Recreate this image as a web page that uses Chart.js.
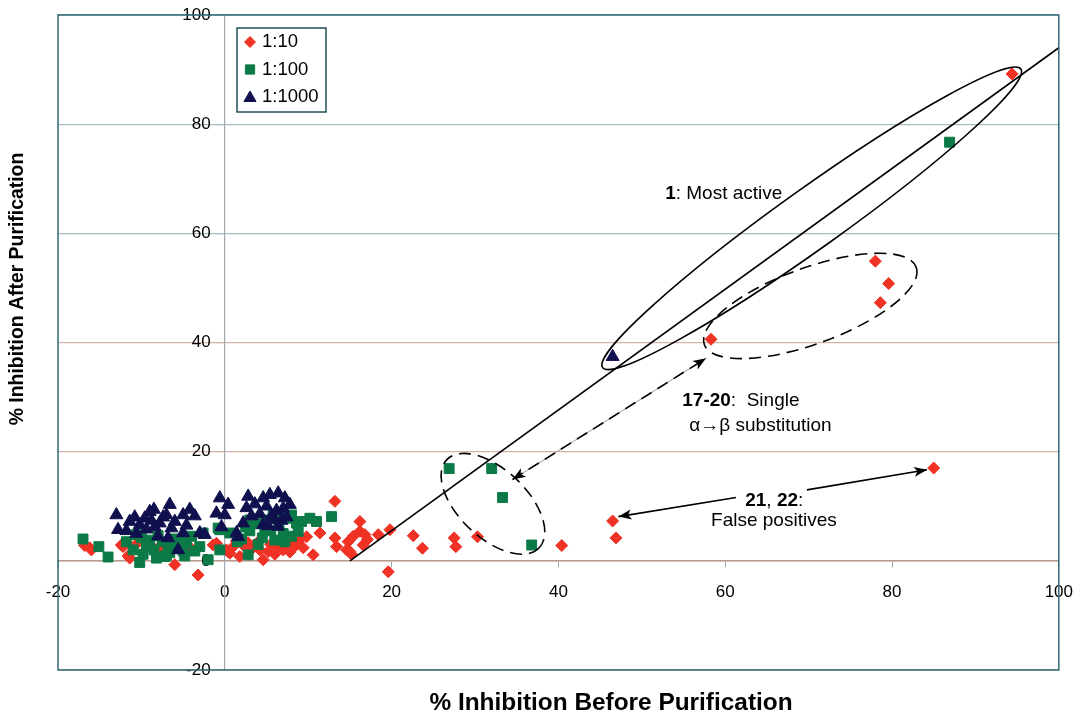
<!DOCTYPE html>
<html>
<head>
<meta charset="utf-8">
<script src="https://cdn.jsdelivr.net/npm/chart.js@4.4.0/dist/chart.umd.min.js"></script>
<style>
  html, body { margin: 0; padding: 0; background: #fff; overflow: hidden; }
</style>
</head>
<body>
<canvas id="myChart" width="1088" height="713"></canvas>
<script>
// % inhibition before (x) and after (y) purification
const dil10 = [
  [94.4, 89.2], [78.0, 54.9], [79.6, 50.8], [78.6, 47.3], [58.3, 40.6], [85.0, 17.0],
  [46.5, 7.3], [46.9, 4.2], [40.4, 2.8], [30.3, 4.4], [27.5, 4.2], [27.7, 2.6],
  [23.7, 2.3], [22.6, 4.6], [19.8, 5.7], [19.6, -2.0], [18.4, 4.8], [17.1, 3.9],
  [13.2, 10.9], [16.2, 7.2], [13.2, 4.2], [13.4, 2.6], [14.8, 3.5], [14.6, 2.0],
  [15.4, 4.5], [16.2, 5.4], [16.8, 4.8], [15.0, 1.7], [16.6, 2.9], [15.2, 1.2],
  [-16.8, 2.8], [-16.2, 2.4], [-16.0, 2.0], [-12.4, 2.9], [-12.2, 2.6], [-11.4, 0.5],
  [-11.6, 0.9], [-7.8, 2.6], [-6.6, 2.4], [-6.0, -0.7], [-3.2, -2.6], [-1.4, 2.9],
  [-1.0, 3.2], [0.2, 2.0], [0.4, 1.7], [0.6, 1.4], [1.8, 0.8], [2.2, 2.9],
  [3.4, 2.6], [4.6, 0.2], [5.2, 1.7], [6.2, 2.6], [6.6, 2.6], [7.4, 3.2],
  [8.2, 3.9], [9.0, 3.9], [9.8, 4.4], [10.6, 1.1], [11.4, 5.1], [2.8, 3.3],
  [4.0, 3.5], [5.5, 3.0], [7.0, 2.0], [3.0, 1.8], [1.0, 2.6], [6.0, 1.2],
  [8.5, 2.8], [-5.0, 3.5], [-9.0, 3.0], [-4.0, 2.2], [-10.5, 3.2], [-8.5, 1.8],
  [1.4, 3.6], [4.2, 2.0], [7.8, 1.6], [9.4, 2.4]
]
const dil100 = [
  [86.9, 76.7], [26.9, 16.9], [32.0, 16.9], [33.3, 11.6], [36.8, 2.9],
  [-17.0, 4.0], [-15.1, 2.6], [-14.0, 0.7], [-11.8, 3.5], [-11.0, 2.0], [-10.2, -0.3],
  [-9.4, 2.9], [-8.2, 0.5], [-6.6, 1.5], [-5.8, 2.6], [-4.6, 3.3], [-3.0, 2.6],
  [-2.0, 0.2], [-2.6, 5.1], [-0.6, 5.7], [-0.6, 2.0], [-0.8, 6.0], [2.8, 1.1],
  [0.6, 5.1], [8.0, 8.4], [8.6, 6.9], [8.8, 5.4], [10.2, 7.8], [11.0, 7.2], [12.8, 8.1],
  [-10.0, 4.2], [-9.0, 3.8], [-8.5, 2.0], [-7.5, 3.5], [-7.0, 1.0], [-6.0, 4.0],
  [-5.0, 1.8], [-4.0, 4.5], [-9.8, 1.2], [-8.0, 4.6], [-6.8, 2.8], [-5.2, 3.9],
  [-3.6, 1.8], [-10.6, 4.8], [-7.2, 0.8], [-4.8, 0.9],
  [2.0, 4.0], [3.0, 5.5], [3.8, 6.8], [4.5, 4.2], [5.0, 7.5], [5.5, 5.5], [6.0, 3.8],
  [6.5, 6.5], [7.0, 5.0], [7.5, 7.8], [8.0, 4.5], [4.0, 3.0], [3.0, 7.5], [5.8, 8.5],
  [6.8, 8.2], [7.2, 3.5], [2.5, 6.2], [1.5, 3.5], [4.8, 6.0], [9.2, 7.2]
]
const dil1000 = [
  [46.5, 37.4],
  [-13.0, 8.4], [-12.8, 5.7], [-11.4, 7.2], [-10.2, 6.6], [-9.0, 9.0], [-8.5, 9.4],
  [-7.8, 6.9], [-6.6, 10.3], [-7.0, 8.4], [-6.0, 7.2], [-5.0, 8.4], [-4.2, 9.4],
  [-5.0, 5.1], [-6.8, 4.2], [-5.6, 2.0], [-3.0, 5.1], [-2.4, 4.8], [-9.4, 5.8],
  [-10.6, 5.0], [-8.4, 6.2], [-11.8, 5.5], [-8.0, 4.5], [-7.4, 8.0], [-9.6, 7.8],
  [-4.6, 6.5], [-3.6, 8.2], [-10.8, 8.0], [-6.4, 6.0], [-8.8, 7.4],
  [-0.6, 11.5], [-1.0, 8.7], [0.4, 10.3], [0.0, 8.4], [2.8, 11.8], [2.6, 9.7],
  [2.2, 6.9], [1.4, 5.1], [4.6, 11.5], [5.4, 12.1], [6.4, 12.4], [7.2, 11.5],
  [7.8, 10.3], [4.6, 6.6], [6.0, 7.5], [6.4, 6.3], [3.6, 10.4], [5.0, 10.0],
  [6.2, 9.2], [7.0, 9.6], [5.6, 8.2], [4.2, 8.6], [3.2, 8.2], [6.8, 7.4],
  [1.6, 4.4], [5.2, 6.4], [-0.4, 6.2], [7.4, 8.0]
]
const seriesNames = ['1:10', '1:100', '1:1000']
const xTicks = [-20, 0, 20, 40, 60, 80, 100]
const yTicks = [-20, 0, 20, 40, 60, 80, 100]

const RED = '#ef3224', GREEN = '#0b7a46', NAVY = '#10104f'
const FONT = '"Liberation Sans", Arial, sans-serif'

const toPts = arr => arr.map(p => ({x: p[0], y: p[1]}))

// drawing helpers
function arrowHead(ctx, tx, ty, fx, fy, len, half) {
  const ang = Math.atan2(ty - fy, tx - fx)
  ctx.save()
  ctx.translate(tx, ty)
  ctx.rotate(ang)
  ctx.beginPath()
  ctx.moveTo(0, 0)
  ctx.lineTo(-len, -half)
  ctx.lineTo(-len * 0.75, 0)
  ctx.lineTo(-len, half)
  ctx.closePath()
  ctx.fill()
  ctx.restore()
}

function ellipseByTips(ctx, x, y, p1, p2, half, dash) {
  const x1 = x.getPixelForValue(p1[0]), y1 = y.getPixelForValue(p1[1])
  const x2 = x.getPixelForValue(p2[0]), y2 = y.getPixelForValue(p2[1])
  const cx = (x1 + x2) / 2, cy = (y1 + y2) / 2
  const a = Math.hypot(x2 - x1, y2 - y1) / 2
  ctx.save()
  ctx.setLineDash(dash || [])
  ctx.beginPath()
  ctx.ellipse(cx, cy, a, half, Math.atan2(y2 - y1, x2 - x1), 0, Math.PI * 2)
  ctx.stroke()
  ctx.restore()
}

function richText(ctx, parts, px, py) {
  let cx = px
  ctx.textBaseline = 'middle'
  ctx.textAlign = 'left'
  parts.forEach(([txt, bold]) => {
    ctx.font = (bold ? 'bold ' : '') + '19px ' + FONT
    ctx.fillText(txt, cx, py)
    cx += ctx.measureText(txt).width
  })
}

const extras = {
  id: 'extras',
  afterDatasetsDraw(chart) {
    const {ctx, scales: {x, y}} = chart
    const P = (vx, vy) => [x.getPixelForValue(vx), y.getPixelForValue(vy)]
    ctx.save()
    ctx.strokeStyle = '#000'
    ctx.fillStyle = '#000'
    ctx.lineWidth = 1.6

    // diagonal reference line
    let [ax, ay] = P(15, 0), [bx, by] = P(100, 94)
    ctx.beginPath(); ctx.moveTo(ax, ay); ctx.lineTo(bx, by); ctx.stroke()

    // groups
    ellipseByTips(ctx, x, y, [45.3, 35.4], [95.45, 90.1], 30)
    ellipseByTips(ctx, x, y, [57.5, 39.6], [82.9, 53.8], 38, [12, 7])
    ellipseByTips(ctx, x, y, [26.6, 18.5], [37.7, 2.4], 34, [12, 7])

    // double dashed arrow
    ;[ax, ay] = P(34.5, 14.9); [bx, by] = P(57.7, 37.1)
    ctx.save()
    ctx.strokeStyle = '#9a9a9a'; ctx.lineWidth = 1
    ctx.beginPath(); ctx.moveTo(ax, ay); ctx.lineTo(bx, by); ctx.stroke()
    ctx.restore()
    ctx.save()
    ctx.setLineDash([12, 7])
    ctx.beginPath(); ctx.moveTo(ax, ay); ctx.lineTo(bx, by); ctx.stroke()
    ctx.restore()
    arrowHead(ctx, ax, ay, bx, by, 13, 5)
    arrowHead(ctx, bx, by, ax, ay, 13, 5)

    // false positive arrows
    ;[ax, ay] = P(61.3, 11.6); [bx, by] = P(47.2, 8.1)
    ctx.beginPath(); ctx.moveTo(ax, ay); ctx.lineTo(bx, by); ctx.stroke()
    arrowHead(ctx, bx, by, ax, ay, 13, 5)
    ;[ax, ay] = P(69.8, 13.0); [bx, by] = P(84.2, 16.7)
    ctx.beginPath(); ctx.moveTo(ax, ay); ctx.lineTo(bx, by); ctx.stroke()
    arrowHead(ctx, bx, by, ax, ay, 13, 5)

    // labels
    ctx.fillStyle = '#000'
    richText(ctx, [['1', true], [': Most active', false]], ...P(52.8, 67.3))
    richText(ctx, [['17-20', true], [':  Single', false]], ...P(54.85, 29.3))
    richText(ctx, [['\u03b1\u2192\u03b2 substitution', false]], ...P(55.7, 24.8))
    richText(ctx, [['21', true], [', ', false], ['22', true], [':', false]], ...P(62.4, 11.0))
    richText(ctx, [['False positives', false]], ...P(58.3, 7.3))
    ctx.restore()
  },
  afterDraw(chart) {
    const {ctx, chartArea: a} = chart
    ctx.save()
    // plot frame
    ctx.strokeStyle = '#2f6a76'
    ctx.lineWidth = 1.5
    ctx.strokeRect(a.left, a.top, a.right - a.left, a.bottom - a.top)

    // legend
    const lx = 237, ly = 28
    ctx.fillStyle = '#fff'
    ctx.fillRect(lx, ly, 89, 84)
    ctx.strokeStyle = '#1f4f5a'
    ctx.lineWidth = 1.5
    ctx.strokeRect(lx, ly, 89, 84)
    const styles = [['rectRot', RED, 5.5], ['rect', GREEN, 6.5], ['triangle', NAVY, 7]]
    styles.forEach(([st, col, r], i) => {
      const cy = ly + 14 + i * 27.5
      ctx.fillStyle = col
      ctx.strokeStyle = col
      ctx.lineWidth = 1
      Chart.helpers.drawPoint(ctx, {pointStyle: st, radius: r, borderWidth: 1}, lx + 13, cy + (st === 'triangle' ? 1 : 0))
      ctx.fillStyle = '#000'
      ctx.font = '18.5px ' + FONT
      ctx.textAlign = 'left'
      ctx.textBaseline = 'middle'
      ctx.fillText(seriesNames[i], lx + 25, cy)
    })

    // axis titles
    ctx.fillStyle = '#000'
    ctx.textAlign = 'center'
    ctx.textBaseline = 'middle'
    const xt = '% Inhibition Before Purification'
    ctx.font = 'bold 18px ' + FONT
    const fx = 18 * 364 / ctx.measureText(xt).width
    ctx.font = 'bold ' + fx.toFixed(1) + 'px ' + FONT
    ctx.fillText(xt, 611, 703)
    const yt = '% Inhibition After Purification'
    ctx.font = 'bold 18px ' + FONT
    const fy = 18 * 272 / ctx.measureText(yt).width
    ctx.font = 'bold ' + fy.toFixed(1) + 'px ' + FONT
    ctx.translate(18, 289)
    ctx.rotate(-Math.PI / 2)
    ctx.fillText(yt, 0, 0)
    ctx.restore()
  }
}

const data = {
  datasets: [
    {label: seriesNames[2], data: toPts(dil1000), pointStyle: 'triangle', pointRadius: 7.5,
     backgroundColor: NAVY, borderColor: NAVY, borderWidth: 1, order: 1},
    {label: seriesNames[1], data: toPts(dil100), pointStyle: 'rect', pointRadius: 7,
     backgroundColor: GREEN, borderColor: GREEN, borderWidth: 1, order: 2},
    {label: seriesNames[0], data: toPts(dil10), pointStyle: 'rectRot', pointRadius: 6,
     backgroundColor: RED, borderColor: RED, borderWidth: 1, order: 3}
  ]
}

const config = {
  type: 'scatter',
  data: data,
  options: {
    responsive: false,
    animation: false,
    layout: {padding: {left: 58, right: 8, top: 15, bottom: 43}},
    plugins: {legend: {display: false}, tooltip: {enabled: false}},
    scales: {
      x: {
        type: 'linear', min: -20, max: 100,
        position: {y: 0},
        afterBuildTicks: s => { s.ticks = xTicks.map(v => ({value: v})) },
        grid: {display: true, drawOnChartArea: false, drawTicks: true, tickLength: 6, color: '#9aa4aa'},
        border: {display: true, color: '#b99a90', width: 1.5},
        ticks: {font: {family: FONT, size: 17}, color: '#000', padding: 15, maxRotation: 0, autoSkip: false}
      },
      y: {
        type: 'linear', min: -20, max: 100,
        position: {x: 0},
        afterBuildTicks: s => { s.ticks = yTicks.map(v => ({value: v})) },
        grid: {
          color: c => (c.tick && c.tick.value <= 40 ? '#d3b4aa' : '#a9bcc3'),
          lineWidth: 1.2, tickLength: 6
        },
        border: {display: true, color: '#a0a8ae', width: 1.2},
        ticks: {
          font: {family: FONT, size: 17}, color: '#000', padding: 0, autoSkip: false,
          callback: v => v + '   '
        }
      }
    }
  },
  plugins: [extras]
}

const myChart = new Chart(document.getElementById('myChart'), config)
</script>
</body>
</html>
